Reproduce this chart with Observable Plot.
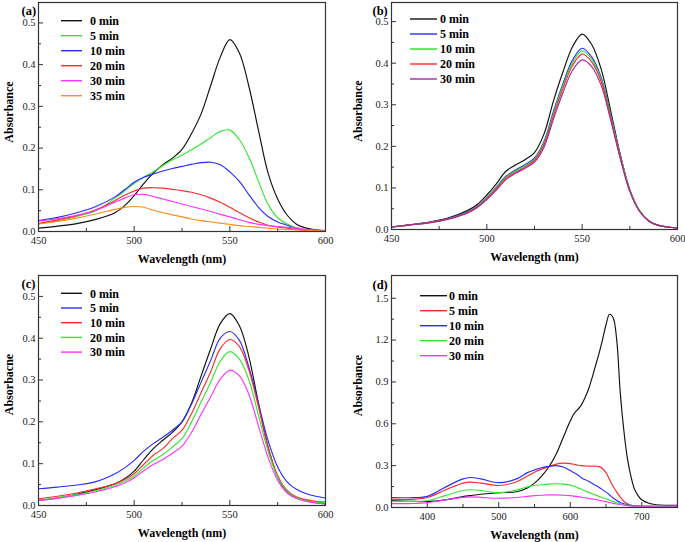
<!DOCTYPE html>
<html><head><meta charset="utf-8">
<script src="https://cdn.jsdelivr.net/npm/d3@7"></script>
<script src="https://cdn.jsdelivr.net/npm/@observablehq/plot@0.6"></script>
<style>
body{margin:0;background:#fff;}
#wrap{position:relative;width:685px;height:542px;overflow:hidden;}
.panel{position:absolute;}
#wrap svg{overflow:visible;}
#wrap svg, #wrap svg text{font-family:"Liberation Serif","Times New Roman",serif !important;}
</style></head><body><div id="wrap"></div>
<script>
// ---------- wavelength grids ----------
const wlABC = [450,460,470,480,490,495,500,505,510,515,520,525,530,535,540,545,550,555,560,565,570,575,580,585,590,595,600];
const wlD = [350,375,400,425,450,460,475,500,525,540,550,560,570,580,590,600,605,610,615,620,625,630,635,640,645,650,655,660,665,670,675,680,685,690,695,700,710,720,735,750];

// ---------- panel (a) ----------
const aSeries = ["0 min","5 min","10 min","20 min","30 min","35 min"];
const aColors = ["#111111","#33e633","#2b2bff","#ff2b2b","#ff33ff","#ff8c1a"];
const a0  = [0.008,0.013,0.019,0.029,0.045,0.062,0.086,0.115,0.140,0.160,0.176,0.197,0.235,0.282,0.350,0.418,0.460,0.428,0.347,0.242,0.140,0.078,0.039,0.017,0.008,0.004,0.002];
const a5  = [0.018,0.026,0.036,0.050,0.080,0.097,0.115,0.130,0.143,0.158,0.172,0.183,0.196,0.210,0.225,0.240,0.243,0.220,0.178,0.120,0.065,0.033,0.018,0.009,0.004,0.002,0.001];
const a10 = [0.026,0.034,0.045,0.060,0.083,0.100,0.118,0.130,0.138,0.145,0.151,0.156,0.161,0.165,0.166,0.160,0.143,0.120,0.088,0.058,0.036,0.023,0.015,0.006,0.003,0.002,0.001];
const a20 = [0.019,0.028,0.038,0.052,0.074,0.087,0.097,0.104,0.105,0.104,0.101,0.098,0.094,0.088,0.080,0.070,0.058,0.045,0.033,0.023,0.015,0.011,0.008,0.005,0.004,0.003,0.002];
const a30 = [0.025,0.031,0.039,0.051,0.070,0.080,0.088,0.089,0.084,0.078,0.072,0.066,0.060,0.054,0.048,0.041,0.035,0.028,0.022,0.017,0.014,0.012,0.010,0.008,0.005,0.003,0.002];
const a35 = [0.018,0.024,0.032,0.042,0.053,0.058,0.060,0.058,0.051,0.045,0.040,0.035,0.030,0.026,0.023,0.020,0.017,0.014,0.012,0.010,0.008,0.006,0.005,0.004,0.003,0.002,0.001];

// ---------- panel (b) ----------
const bSeries = ["0 min","5 min","10 min","20 min","30 min"];
const bColors = ["#111111","#2b2bff","#22e622","#ff2b2b","#a02ca0"];
const b0  = [0.006,0.012,0.018,0.028,0.046,0.060,0.083,0.110,0.140,0.155,0.168,0.185,0.230,0.310,0.380,0.440,0.470,0.445,0.385,0.285,0.180,0.095,0.045,0.020,0.010,0.006,0.004];
const b5  = [0.006,0.011,0.017,0.027,0.043,0.056,0.077,0.102,0.128,0.143,0.156,0.172,0.212,0.285,0.352,0.408,0.436,0.415,0.365,0.275,0.178,0.095,0.046,0.021,0.010,0.006,0.004];
const b10 = [0.006,0.011,0.017,0.026,0.042,0.055,0.076,0.100,0.126,0.140,0.153,0.169,0.208,0.280,0.347,0.402,0.430,0.410,0.361,0.273,0.177,0.095,0.046,0.021,0.010,0.006,0.004];
const b20 = [0.006,0.011,0.017,0.026,0.041,0.054,0.074,0.098,0.123,0.137,0.150,0.166,0.204,0.274,0.340,0.395,0.422,0.403,0.355,0.268,0.174,0.093,0.045,0.020,0.010,0.006,0.004];
const b30 = [0.006,0.011,0.016,0.025,0.040,0.053,0.072,0.095,0.120,0.135,0.147,0.162,0.198,0.266,0.330,0.383,0.408,0.392,0.346,0.262,0.170,0.091,0.044,0.020,0.010,0.006,0.004];

// ---------- panel (c) ----------
const cSeries = ["0 min","5 min","10 min","20 min","30 min"];
const cColors = ["#111111","#2b2bff","#ff2b2b","#33e633","#ff33ff"];
const c0  = [0.012,0.018,0.027,0.038,0.052,0.064,0.082,0.110,0.136,0.156,0.175,0.200,0.245,0.310,0.375,0.435,0.459,0.430,0.355,0.243,0.140,0.068,0.032,0.018,0.012,0.007,0.004];
const c5  = [0.040,0.044,0.049,0.057,0.076,0.090,0.108,0.130,0.148,0.163,0.180,0.200,0.243,0.295,0.347,0.400,0.416,0.395,0.330,0.243,0.155,0.092,0.056,0.038,0.028,0.022,0.018];
const c10 = [0.016,0.022,0.030,0.040,0.052,0.062,0.076,0.098,0.120,0.136,0.160,0.180,0.220,0.270,0.320,0.375,0.397,0.380,0.323,0.235,0.140,0.072,0.036,0.020,0.014,0.010,0.008];
const c20 = [0.013,0.019,0.026,0.036,0.048,0.058,0.070,0.090,0.108,0.122,0.140,0.160,0.200,0.248,0.295,0.345,0.368,0.350,0.300,0.215,0.130,0.068,0.034,0.018,0.012,0.008,0.006];
const c30 = [0.012,0.017,0.024,0.033,0.045,0.054,0.066,0.083,0.098,0.110,0.125,0.142,0.175,0.218,0.260,0.302,0.323,0.310,0.265,0.190,0.115,0.060,0.030,0.016,0.010,0.006,0.004];

// ---------- panel (d) ----------
const dSeries = ["0 min","5 min","10 min","20 min","30 min"];
const dColors = ["#111111","#ff2b2b","#2b2bff","#33e633","#ff33ff"];
const d0  = [0.050,0.045,0.042,0.055,0.078,0.085,0.095,0.106,0.113,0.140,0.175,0.225,0.290,0.380,0.500,0.620,0.670,0.700,0.730,0.780,0.840,0.920,1.010,1.100,1.200,1.310,1.385,1.360,1.200,0.820,0.550,0.350,0.220,0.130,0.085,0.055,0.030,0.020,0.016,0.015];
const d5  = [0.060,0.058,0.072,0.125,0.175,0.182,0.175,0.158,0.185,0.225,0.253,0.275,0.293,0.310,0.318,0.315,0.310,0.305,0.300,0.298,0.297,0.296,0.296,0.293,0.280,0.250,0.200,0.150,0.110,0.075,0.045,0.026,0.016,0.012,0.010,0.009,0.008,0.007,0.006,0.006];
const d10 = [0.072,0.070,0.080,0.145,0.205,0.215,0.205,0.178,0.205,0.250,0.270,0.285,0.295,0.300,0.290,0.265,0.250,0.235,0.215,0.200,0.190,0.175,0.160,0.145,0.128,0.110,0.090,0.068,0.050,0.036,0.027,0.020,0.015,0.012,0.010,0.009,0.008,0.007,0.006,0.006];
const d20 = [0.045,0.044,0.048,0.085,0.122,0.127,0.122,0.105,0.125,0.148,0.158,0.163,0.168,0.170,0.168,0.160,0.152,0.142,0.132,0.120,0.110,0.100,0.090,0.080,0.070,0.062,0.052,0.042,0.034,0.027,0.020,0.015,0.011,0.009,0.008,0.007,0.006,0.006,0.005,0.005];
const d30 = [0.028,0.028,0.034,0.055,0.073,0.076,0.073,0.066,0.072,0.080,0.085,0.088,0.090,0.090,0.088,0.085,0.082,0.078,0.074,0.070,0.066,0.062,0.057,0.052,0.047,0.042,0.036,0.030,0.025,0.020,0.016,0.013,0.011,0.010,0.010,0.010,0.010,0.010,0.011,0.012];

// ---------- tick labels ----------
const xTicksABC = [450,500,550,600];
const xMinorABC = [475,525,575];
const yTicksABC = [0,0.1,0.2,0.3,0.4,0.5];
const yMinorABC = [0.05,0.15,0.25,0.35,0.45];
const xTicksD = [400,500,600,700];
const xMinorD = [350,450,550,650,750];
const yTicksD = [0,0.3,0.6,0.9,1.2,1.5];
const yMinorD = [0.15,0.45,0.75,1.05,1.35];

function tidy(wl, series, arrays){
  const out = [];
  series.forEach((s,i)=> wl.forEach((w,j)=> out.push({wl:w, v:arrays[i][j], s})));
  return out;
}

function panel(cfg){
  const innerW = cfg.width - cfg.ml - cfg.mr;
  const innerH = cfg.height - cfg.mt - cfg.mb;
  const data = tidy(cfg.wl, cfg.series, cfg.arrays);
  const svg = Plot.plot({
    width: cfg.width, height: cfg.height,
    marginLeft: cfg.ml, marginRight: cfg.mr, marginTop: cfg.mt, marginBottom: cfg.mb,
    style: {background:"transparent", overflow:"visible"},
    x: {domain: cfg.xDomain},
    y: {domain: cfg.yDomain},
    color: {domain: cfg.series, range: cfg.colors},
    marks: [
      Plot.axisX({ticks: cfg.xTicks, tickSize: 0, tickPadding: 5, tickFormat: d=>String(d), fontSize: 10.5, color:"#222", label: null}),
      Plot.axisY({ticks: cfg.yTicks, tickSize: 0, tickPadding: 3, tickFormat: d3.format(".1f"), fontSize: 10.5, color:"#222", label: null}),
      Plot.tickX(cfg.xTicks, {x: d=>d, insetTop: innerH-5, stroke:"#333", strokeWidth:1}),
      Plot.tickX(cfg.xMinor, {x: d=>d, insetTop: innerH-3, stroke:"#333", strokeWidth:1}),
      Plot.tickY(cfg.yTicks, {y: d=>d, insetRight: innerW-5, stroke:"#333", strokeWidth:1}),
      Plot.tickY(cfg.yMinor, {y: d=>d, insetRight: innerW-3, stroke:"#333", strokeWidth:1}),
      Plot.line(data, {x:"wl", y:"v", z:"s", stroke:"s", curve:"catmull-rom", strokeWidth:1.15}),
      Plot.frame({stroke:"#333", strokeWidth:1.2}),
      Plot.text([cfg.tag], {frameAnchor:"top-left", dx: cfg.tagDx, dy: cfg.tagDy, text: d=>d, textAnchor:"start", lineAnchor:"middle", fontWeight:"bold", fontSize:12.5, fill:"#000"}),
      Plot.text(["Wavelength (nm)"], {frameAnchor:"bottom", dy: cfg.xlDy, text: d=>d, lineAnchor:"middle", fontWeight:"bold", fontSize:12, fill:"#000"}),
      Plot.text([cfg.ylabel], {frameAnchor:"left", dx: cfg.ylDx, dy: cfg.ylDy, text: d=>d, rotate:-90, lineAnchor:"middle", textAnchor:"middle", fontWeight:"bold", fontSize:12, fill:"#000"})
    ]
  });
  // legend
  const g = d3.select(svg).append("g").attr("text-anchor","start");
  cfg.series.forEach((s,i)=>{
    const y = cfg.lg.y0 + i*cfg.lg.dy;
    g.append("line").attr("x1",cfg.lg.x1).attr("x2",cfg.lg.x2).attr("y1",y).attr("y2",y)
      .attr("stroke",cfg.colors[i]).attr("stroke-width",1.4);
    g.append("text").attr("x",cfg.lg.tx).attr("y",y).attr("dy","0.35em").attr("text-anchor","start")
      .attr("font-size",12).attr("font-weight","bold").attr("fill","#000").text(s);
  });
  const div = document.createElement("div");
  div.className = "panel";
  div.style.left = cfg.left+"px"; div.style.top = cfg.top+"px";
  div.appendChild(svg);
  document.getElementById("wrap").appendChild(div);
}

panel({left:0, top:0, width:340, height:270, ml:38, mr:15, mt:2, mb:39,
  wl: wlABC, series: aSeries, colors: aColors, arrays:[a0,a5,a10,a20,a30,a35],
  xDomain:[450,600], yDomain:[0,0.549], xTicks:xTicksABC, xMinor:xMinorABC, yTicks:yTicksABC, yMinor:yMinorABC,
  tag:"(a)", tagDx:-17, tagDy:8, xlDy:28, ylDx:-29, ylDy:-5, ylabel:"Absorbance",
  lg:{x1:61, x2:82, tx:90, y0:20.7, dy:15}});

panel({left:340, top:0, width:345, height:270, ml:51, mr:8, mt:2, mb:41,
  wl: wlABC, series: bSeries, colors: bColors, arrays:[b0,b5,b10,b20,b30],
  xDomain:[450,600], yDomain:[0,0.546], xTicks:xTicksABC, xMinor:xMinorABC, yTicks:yTicksABC, yMinor:yMinorABC,
  tag:"(b)", tagDx:-19, tagDy:8, xlDy:28, ylDx:-33, ylDy:-5, ylabel:"Absorbance",
  lg:{x1:70, x2:97, tx:100, y0:19, dy:15}});

panel({left:0, top:270, width:340, height:272, ml:38, mr:15, mt:5, mb:37,
  wl: wlABC, series: cSeries, colors: cColors, arrays:[c0,c5,c10,c20,c30],
  xDomain:[450,600], yDomain:[0,0.55], xTicks:xTicksABC, xMinor:xMinorABC, yTicks:yTicksABC, yMinor:yMinorABC,
  tag:"(c)", tagDx:-17, tagDy:8, xlDy:28, ylDx:-29, ylDy:-6, ylabel:"Absorbacne",
  lg:{x1:61, x2:82, tx:90, y0:23.3, dy:14.7}});

panel({left:340, top:270, width:345, height:272, ml:51, mr:8, mt:5, mb:35,
  wl: wlD, series: dSeries, colors: dColors, arrays:[d0,d5,d10,d20,d30],
  xDomain:[350,750], yDomain:[0,1.663], xTicks:xTicksD, xMinor:xMinorD, yTicks:yTicksD, yMinor:yMinorD,
  tag:"(d)", tagDx:-19, tagDy:9, xlDy:28, ylDx:-33, ylDy:-6, ylabel:"Absorbance",
  lg:{x1:80, x2:107, tx:109, y0:25.7, dy:15}});
</script></body></html>
